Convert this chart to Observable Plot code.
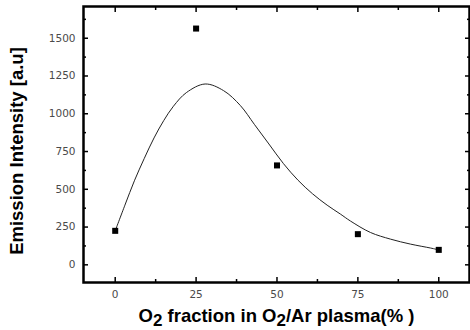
<!DOCTYPE html>
<html>
<head>
<meta charset="utf-8">
<script src="https://cdn.jsdelivr.net/npm/d3@7"></script>
<script src="https://cdn.jsdelivr.net/npm/@observablehq/plot@0.6"></script>
<style>
  html, body { margin: 0; padding: 0; background: #fff; }
  #chart svg { display: block; }
</style>
</head>
<body>
<div id="chart"></div>
<script>
// measured data points
const o2Fraction = [0, 25, 50, 75, 100];
const intensity = [225, 1564, 658, 203, 99];

// fitted curve
const fitX = [0, 3, 6, 9, 12, 15, 18, 22, 27.8, 33.5, 38.7, 43, 47.5, 52, 56.5, 61, 65.5, 69.6, 72.7, 78.9, 85.1, 91.3, 97.5, 100];
const fitY = [225, 395, 560, 705, 840, 955, 1050, 1140, 1197, 1153, 1054, 930, 800, 670, 560, 470, 395, 336, 290, 214, 170, 137, 111, 99];

// ticks
const xTicks = [0, 25, 50, 75, 100];
const xMinor = [12.5, 37.5, 62.5, 87.5];
const yTicks = [0, 250, 500, 750, 1000, 1250, 1500];
const yMinor = [125, 375, 625, 875, 1125, 1375, 1625];

const points = o2Fraction.map((x, i) => ({x, y: intensity[i]}));
const fit = fitX.map((x, i) => ({x, y: fitY[i]}));

const tickFont = {fontSize: 10.5, fill: "#4a4a4a", fontFamily: "DejaVu Sans, Liberation Sans, sans-serif"};

const plot = Plot.plot({
  width: 470,
  height: 330,
  marginLeft: 83,
  marginRight: 1,
  marginTop: 6,
  marginBottom: 48,
  style: {background: "#fff", fontFamily: "Liberation Sans, Arial, sans-serif"},
  x: {domain: [-9.8, 109.5], label: null},
  y: {domain: [-117, 1710], label: null},
  marks: [
    // inward ticks, all four sides
    Plot.axisX({anchor: "bottom", ticks: xTicks, tickSize: -5, text: null, stroke: "#000", strokeWidth: 1.5}),
    Plot.axisX({anchor: "bottom", ticks: xMinor, tickSize: -3, text: null, stroke: "#000", strokeWidth: 1.5}),
    Plot.axisX({anchor: "top", ticks: xTicks, tickSize: -5, text: null, stroke: "#000", strokeWidth: 1.5}),
    Plot.axisX({anchor: "top", ticks: xMinor, tickSize: -3, text: null, stroke: "#000", strokeWidth: 1.5}),
    Plot.axisY({anchor: "left", ticks: yTicks, tickSize: -5, text: null, stroke: "#000", strokeWidth: 1.5}),
    Plot.axisY({anchor: "left", ticks: yMinor, tickSize: -3, text: null, stroke: "#000", strokeWidth: 1.5}),
    Plot.axisY({anchor: "right", ticks: yTicks, tickSize: -5, text: null, stroke: "#000", strokeWidth: 1.5}),
    Plot.axisY({anchor: "right", ticks: yMinor, tickSize: -3, text: null, stroke: "#000", strokeWidth: 1.5}),
    // tick labels
    Plot.axisX({anchor: "bottom", ticks: xTicks, tickSize: 0, tickPadding: 8, tickFormat: d => String(d), ...tickFont}),
    Plot.axisY({anchor: "left", ticks: yTicks, tickSize: 0, tickPadding: 8, tickFormat: d => String(d), ...tickFont}),
    Plot.frame({stroke: "#000", strokeWidth: 2.5}),
    Plot.line(fit, {x: "x", y: "y", curve: "catmull-rom", stroke: "#222", strokeWidth: 1}),
    Plot.dot(points, {x: "x", y: "y", symbol: "square", r: 3.4, fill: "#000", stroke: "none"})
  ]
});

document.getElementById("chart").appendChild(plot);

// axis titles with subscripts
const sx = plot.scale("x"), sy = plot.scale("y");
const svg = d3.select(plot);

const xt = svg.append("text")
  .attr("x", sx.apply(50))
  .attr("y", 322)
  .attr("text-anchor", "middle")
  .attr("font-family", "Liberation Sans, Arial, sans-serif")
  .attr("font-weight", "bold")
  .attr("font-size", 18.5)
  .attr("fill", "#000");
xt.append("tspan").text("O");
xt.append("tspan").attr("dy", 4).attr("font-size", 17).text("2");
xt.append("tspan").attr("dy", -4).text(" fraction in O");
xt.append("tspan").attr("dy", 4).attr("font-size", 17).text("2");
xt.append("tspan").attr("dy", -4).text("/Ar plasma(% )");

svg.append("text")
  .attr("transform", `translate(23,${sy.apply(750)}) rotate(-90)`)
  .attr("text-anchor", "middle")
  .attr("font-family", "Liberation Sans, Arial, sans-serif")
  .attr("font-weight", "bold")
  .attr("font-size", 18.5)
  .attr("fill", "#000")
  .text("Emission Intensity [a.u]");
</script>
</body>
</html>
